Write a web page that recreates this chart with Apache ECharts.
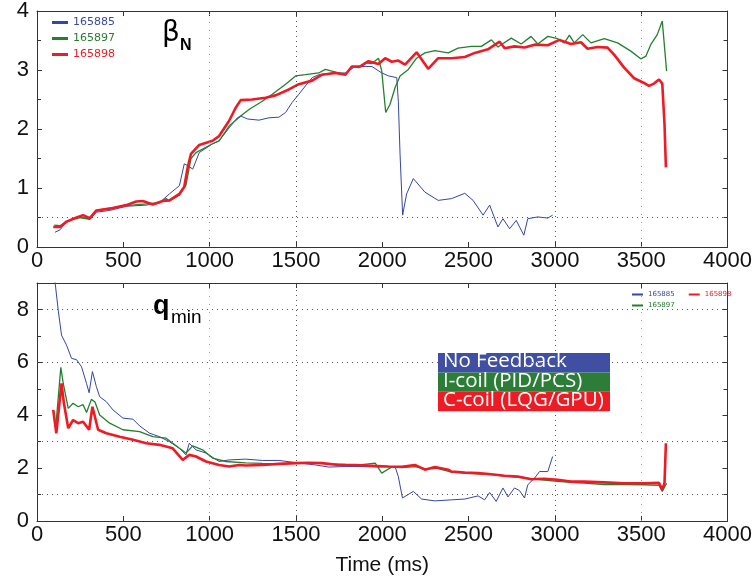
<!DOCTYPE html>
<html>
<head>
<meta charset="utf-8">
<script src="https://cdn.jsdelivr.net/npm/echarts@6/dist/echarts.min.js"></script>
<style>html,body{margin:0;padding:0;background:#fff;}#c{width:755px;height:584px;}</style>
</head>
<body>
<div id="c"></div>
<script>
const shots = ['165885', '165897', '165898'];
const colors = ['#3446a6', '#23802f', '#ef1a24'];
const xTicks = [0, 500, 1000, 1500, 2000, 2500, 3000, 3500, 4000];

const beta165885 = [[104,0.25],[133,0.29],[171,0.43],[210,0.47],[248,0.52],[275,0.5],[306,0.47],[344,0.59],[421,0.62],[517,0.69],[633,0.71],[709,0.75],[767,0.9],[825,1.04],[853,1.41],[873,1.38],[902,1.32],[940,1.6],[1017,1.75],[1055,1.8],[1113,2.02],[1161,2.19],[1180,2.22],[1219,2.17],[1286,2.15],[1344,2.19],[1401,2.2],[1440,2.28],[1478,2.45],[1517,2.59],[1555,2.73],[1594,2.87],[1632,2.92],[1709,2.95],[1786,2.95],[1844,3.06],[1901,3.06],[1940,3.06],[1997,2.95],[2036,2.9],[2084,2.87],[2093,2.47],[2103,1.58],[2118,0.54],[2141,0.9],[2180,1.16],[2247,0.93],[2324,0.79],[2401,0.82],[2478,0.91],[2526,0.79],[2584,0.54],[2622,0.71],[2670,0.34],[2699,0.48],[2738,0.31],[2776,0.45],[2820,0.2],[2843,0.48],[2901,0.51],[2959,0.49],[2987,0.54]];
const beta165897 = [[100,0.37],[133,0.36],[171,0.42],[210,0.47],[248,0.5],[306,0.47],[344,0.62],[421,0.66],[517,0.7],[633,0.73],[709,0.75],[748,0.82],[767,0.78],[825,0.88],[863,1.05],[892,1.5],[921,1.6],[1017,1.75],[1055,1.8],[1113,2.05],[1180,2.22],[1228,2.33],[1305,2.47],[1363,2.59],[1440,2.76],[1498,2.9],[1555,2.92],[1632,2.95],[1670,3.01],[1786,2.92],[1824,3.06],[1863,3.04],[1901,3.12],[1940,3.11],[1978,3.2],[1997,2.98],[2020,2.28],[2045,2.42],[2074,2.7],[2103,2.9],[2151,3.01],[2199,3.2],[2247,3.29],[2305,3.33],[2382,3.29],[2439,3.37],[2516,3.4],[2574,3.4],[2632,3.51],[2670,3.39],[2747,3.54],[2805,3.44],[2862,3.57],[2901,3.44],[2959,3.57],[3016,3.53],[3055,3.46],[3084,3.59],[3112,3.46],[3161,3.6],[3209,3.46],[3286,3.53],[3363,3.46],[3440,3.32],[3497,3.19],[3526,3.23],[3555,3.43],[3593,3.6],[3622,3.83],[3647,2.98]];
const beta165898 = [[94,0.34],[133,0.34],[171,0.43],[229,0.5],[267,0.54],[306,0.49],[344,0.62],[421,0.65],[517,0.71],[575,0.77],[613,0.78],[671,0.72],[728,0.78],[767,0.79],[825,0.9],[853,1.02],[873,1.35],[892,1.58],[940,1.73],[1017,1.8],[1055,1.88],[1113,2.14],[1151,2.36],[1180,2.49],[1247,2.5],[1324,2.53],[1382,2.57],[1459,2.67],[1517,2.76],[1594,2.82],[1651,2.92],[1728,2.95],[1786,2.92],[1824,3.06],[1873,3.06],[1920,3.15],[1978,3.1],[2017,3.2],[2055,3.14],[2093,3.16],[2132,3.09],[2199,3.3],[2266,3.02],[2324,3.2],[2401,3.2],[2478,3.22],[2536,3.29],[2612,3.35],[2680,3.48],[2709,3.37],[2766,3.4],[2824,3.38],[2882,3.43],[2959,3.42],[3026,3.51],[3093,3.44],[3151,3.47],[3189,3.36],[3247,3.39],[3305,3.38],[3343,3.26],[3401,3.04],[3459,2.86],[3516,2.78],[3545,2.73],[3574,2.77],[3603,2.84],[3622,2.77],[3635,2.08],[3643,1.35]];

const q165885 = [[100,9.3],[123,7.97],[142,7.03],[171,6.65],[200,6.15],[229,6.1],[258,5.83],[287,5.2],[302,4.85],[321,5.65],[344,5.08],[363,4.7],[402,4.51],[440,4.2],[498,3.89],[556,3.85],[594,3.6],[652,3.32],[709,3.19],[767,3.0],[825,2.75],[863,2.5],[882,2.94],[921,2.69],[979,2.57],[1055,2.25],[1113,2.31],[1209,2.34],[1305,2.29],[1401,2.29],[1498,2.21],[1613,2.12],[1690,2.04],[1786,2.06],[1882,2.06],[1978,2.04],[2074,2.06],[2093,1.68],[2117,0.87],[2180,1.12],[2228,0.83],[2305,0.76],[2401,0.8],[2478,0.83],[2555,0.95],[2593,0.8],[2622,1.08],[2660,0.74],[2699,1.25],[2728,0.91],[2766,1.25],[2795,1.15],[2824,0.87],[2843,1.37],[2882,1.62],[2911,1.87],[2959,1.87],[2987,2.44]];
const q165897 = [[100,3.57],[112,3.82],[138,5.81],[152,5.2],[181,4.26],[209,4.45],[238,4.32],[267,4.4],[287,4.1],[315,4.6],[336,4.5],[363,4.01],[421,3.7],[498,3.45],[594,3.38],[671,3.19],[748,3.13],[825,2.75],[863,2.57],[902,2.84],[959,2.69],[1017,2.38],[1094,2.25],[1209,2.2],[1305,2.18],[1401,2.17],[1498,2.18],[1594,2.2],[1690,2.16],[1786,2.14],[1882,2.13],[1959,2.19],[1997,1.81],[2055,2.04],[2113,2.02],[2189,2.06],[2247,1.98],[2324,1.98],[2401,1.85],[2478,1.82],[2555,1.78],[2632,1.75],[2709,1.7],[2786,1.65],[2862,1.6],[2939,1.55],[3016,1.5],[3093,1.46],[3170,1.43],[3286,1.38],[3401,1.38],[3516,1.37],[3603,1.35],[3622,1.12],[3647,1.43]];
const q165898 = [[94,4.2],[112,3.32],[129,4.39],[142,5.2],[156,4.45],[181,3.51],[209,3.82],[238,3.7],[267,3.75],[302,3.45],[321,4.32],[354,3.45],[402,3.32],[479,3.19],[556,3.07],[633,2.94],[709,2.88],[786,2.75],[844,2.31],[882,2.5],[921,2.44],[979,2.25],[1055,2.12],[1113,2.06],[1171,2.12],[1209,2.1],[1305,2.12],[1401,2.16],[1498,2.19],[1574,2.2],[1651,2.19],[1747,2.12],[1844,2.12],[1940,2.09],[2036,2.06],[2113,2.05],[2189,2.12],[2247,1.94],[2305,2.04],[2382,1.94],[2401,1.87],[2478,1.83],[2555,1.81],[2632,1.77],[2709,1.71],[2786,1.68],[2862,1.58],[2939,1.6],[3016,1.56],[3093,1.49],[3170,1.49],[3286,1.46],[3401,1.43],[3516,1.43],[3603,1.44],[3622,1.18],[3635,1.44],[3643,2.94]];

const betaData = [beta165885, beta165897, beta165898];
const qData = [q165885, q165897, q165898];
const feedbackLabels = ['No Feedback', 'I-coil (PID/PCS)', 'C-coil (LQG/GPU)'];
const feedbackColors = ['#3f4fa6', '#2b7d37', '#ed1c24'];

const widths = [1, 1.3, 2.6];
const axisColor = '#333';
const labelFont = {fontFamily: 'Liberation Sans', fontSize: 22, color: '#111'};
const plain = v => String(v);

function xAxes(gi, showName) {
  return [
    {type: 'value', gridIndex: gi, min: 0, max: 4000, interval: 500, position: 'bottom',
     axisLine: {show: true, onZero: false, lineStyle: {color: axisColor, width: 1}},
     axisTick: {show: true, inside: true, length: 5, lineStyle: {color: axisColor}},
     axisLabel: Object.assign({show: true, margin: 3, formatter: plain}, labelFont),
     splitLine: {show: false},
     name: showName ? 'Time (ms)' : '', nameLocation: 'middle', nameGap: 34,
     nameTextStyle: {fontFamily: 'Liberation Sans', fontSize: 21, color: '#111'}},
    {type: 'value', gridIndex: gi, min: 0, max: 4000, interval: 500, position: 'top',
     axisLine: {show: true, onZero: false, lineStyle: {color: axisColor, width: 1}},
     axisTick: {show: true, inside: true, length: 5, lineStyle: {color: axisColor}},
     axisLabel: {show: false}, splitLine: {show: false}}
  ];
}
function yAxes(gi, max, interval, showMax) {
  const base = {type: 'value', gridIndex: gi, min: 0, max: max, interval: interval,
    axisLine: {show: true, onZero: false, lineStyle: {color: axisColor, width: 1}},
    axisTick: {show: true, inside: true, length: 5, lineStyle: {color: axisColor}},
    minorTick: {show: true, splitNumber: 2, length: 4, lineStyle: {color: axisColor}},
    splitLine: {show: false}};
  return [
    Object.assign({}, base, {position: 'left',
      axisLabel: Object.assign({show: true, margin: 8, showMaxLabel: showMax, formatter: plain}, labelFont)}),
    Object.assign({}, base, {position: 'right', axisLabel: {show: false}})
  ];
}

const dotDark = {type: [1, 4], color: '#555', width: 1};
const dotFaint = {type: [1, 7], color: '#999', width: 1};
function gridMarks(xDark, xFaint, yDark) {
  const d = [];
  xDark.forEach(v => d.push({xAxis: v, lineStyle: dotDark}));
  xFaint.forEach(v => d.push({xAxis: v, lineStyle: dotFaint}));
  yDark.forEach(v => d.push({yAxis: v, lineStyle: dotDark}));
  return {silent: true, symbol: ['none', 'none'], label: {show: false}, animation: false,
    lineStyle: dotDark, data: d};
}

const series = [];
shots.forEach((s, i) => {
  series.push({name: s, type: 'line', xAxisIndex: 0, yAxisIndex: 0, data: betaData[i],
    showSymbol: false, symbol: 'none', lineStyle: {color: colors[i], width: widths[i]},
    itemStyle: {color: colors[i]}, animation: false, z: 2 + i,
    markLine: i === 0 ? gridMarks([1500, 3000], [1000, 3500], [0.5]) : undefined});
});
shots.forEach((s, i) => {
  series.push({name: s, type: 'line', xAxisIndex: 2, yAxisIndex: 2, data: qData[i],
    showSymbol: false, symbol: 'none', lineStyle: {color: colors[i], width: widths[i]},
    itemStyle: {color: colors[i]}, animation: false, z: 2 + i,
    markLine: i === 0 ? gridMarks([1500, 3000], [1000, 3500], [1, 3, 6, 8]) : undefined});
});

const legendTextColors = ['#3a4a9e', '#2a7a33', '#e8202a'];
function legendData(names) {
  return names.map(n => ({name: n, textStyle: {color: legendTextColors[shots.indexOf(n)]}}));
}

const boxGraphics = feedbackLabels.map((t, i) => ({
  type: 'group', left: 438, top: 351 + i * 19.4,
  children: [
    {type: 'rect', shape: {x: 0, y: 0, width: 172, height: 19.4}, style: {fill: feedbackColors[i]}},
    {type: 'text', left: 5, top: -2, style: {text: t, fill: '#fff', font: '20.5px "Open Sans"'}}
  ]
}));

const chart = echarts.init(document.getElementById('c'), null, {renderer: 'canvas'});
chart.setOption({
  backgroundColor: '#fff',
  animation: false,
  grid: [
    {left: 37, right: 24, top: 9, height: 238},
    {left: 37, right: 24, top: 283, height: 238}
  ],
  xAxis: xAxes(0, false).concat(xAxes(1, true)),
  yAxis: yAxes(0, 4, 1, true).concat(yAxes(1, 9, 2, false)),
  legend: [
    {orient: 'vertical', left: 47, top: 12, itemWidth: 16, itemHeight: 3, itemGap: 5, icon: 'rect',
     selectedMode: false, data: legendData(shots),
     textStyle: {fontFamily: 'DejaVu Sans', fontSize: 11}},
    {orient: 'horizontal', left: 627, top: 286, itemWidth: 11, itemHeight: 2, itemGap: 14, icon: 'rect',
     selectedMode: false, data: legendData(['165885', '165898']),
     textStyle: {fontFamily: 'DejaVu Sans', fontSize: 7}},
    {orient: 'horizontal', left: 627, top: 297, itemWidth: 11, itemHeight: 2, itemGap: 14, icon: 'rect',
     selectedMode: false, data: legendData(['165897']),
     textStyle: {fontFamily: 'DejaVu Sans', fontSize: 7}}
  ],
  graphic: [
    {type: 'text', left: 162, top: 20, style: {text: 'β', fill: '#000', font: '28px "DejaVu Sans"'}},
    {type: 'text', left: 180, top: 38, style: {text: 'N', fill: '#000', font: 'bold 16px "Liberation Sans"'}},
    {type: 'text', left: 153, top: 293, style: {text: 'q', fill: '#000', font: 'bold 27px "Liberation Sans"'}},
    {type: 'text', left: 171, top: 308, style: {text: 'min', fill: '#000', font: '19px "Liberation Sans"'}}
  ].concat(boxGraphics),
  series: series
});
</script>
</body>
</html>
